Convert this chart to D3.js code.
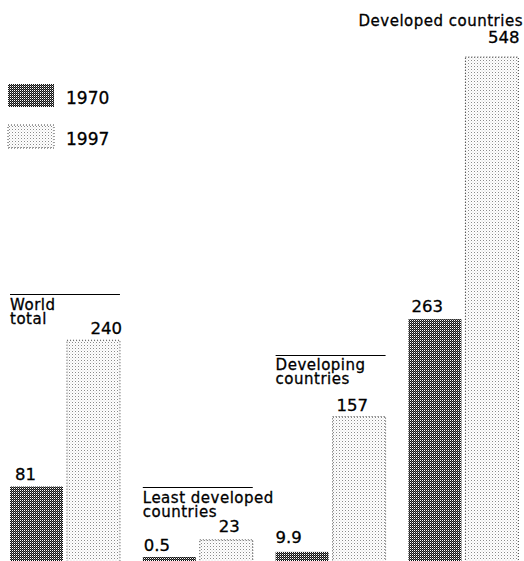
<!DOCTYPE html>
<html><head><meta charset="utf-8">
<script src="https://cdn.jsdelivr.net/npm/d3@7"></script>
<style>
html,body{margin:0;padding:0;background:#fff;}
svg{display:block;}
text{font-family:"DejaVu Sans",sans-serif;fill:#000;stroke:#000;stroke-width:0.3px;}
</style></head>
<body>
<svg id="chart" width="524" height="561"></svg>
<script>
// ---- data ----
const categories = ["World total", "Least developed countries", "Developing countries", "Developed countries"];
const series = ["1970", "1997"];
const values1970 = [81, 0.5, 9.9, 263];
const values1997 = [240, 23, 157, 548];
const valueLabels1970 = ["81", "0.5", "9.9", "263"];
const valueLabels1997 = ["240", "23", "157", "548"];
const categoryLines = [["World", "total"], ["Least developed", "countries"], ["Developing", "countries"], ["Developed countries"]];

// ---- layout ----
const W = 524, H = 561;
const svg = d3.select("#chart");
const defs = svg.append("defs");

// dark dither pattern
const pd = defs.append("pattern").attr("id", "dark").attr("patternUnits", "userSpaceOnUse")
  .attr("width", 2).attr("height", 2);
pd.append("rect").attr("width", 2).attr("height", 2).attr("fill", "#111");
pd.append("rect").attr("x", 0).attr("y", 0).attr("width", 1).attr("height", 1).attr("fill", "#fff");
pd.append("rect").attr("x", 1).attr("y", 1).attr("width", 1).attr("height", 1).attr("fill", "#666");

// light dotted pattern
const pl = defs.append("pattern").attr("id", "light").attr("patternUnits", "userSpaceOnUse")
  .attr("width", 3).attr("height", 3);
pl.append("rect").attr("width", 3).attr("height", 3).attr("fill", "#fff");
pl.append("rect").attr("x", 0).attr("y", 0).attr("width", 1).attr("height", 1).attr("fill", "#8a8a8a");
pl.append("rect").attr("x", 1.5).attr("y", 1.5).attr("width", 1).attr("height", 1).attr("fill", "#cfcfcf");

const fills = {"1970": "url(#dark)", "1997": "url(#light)"};

const x0 = d3.scaleBand().domain(categories).range([10, 518.4]).paddingInner(0.172);
const x1 = d3.scaleBand().domain(series).range([0, x0.bandwidth()]).paddingInner(0.07);
const y = d3.scaleLinear().domain([0, 548]).range([561, 57]);

const rows = [];
categories.forEach((c, i) => {
  rows.push({cat: c, i, s: "1970", v: values1970[i], label: valueLabels1970[i]});
  rows.push({cat: c, i, s: "1997", v: values1997[i], label: valueLabels1997[i]});
});

const minH = 4;
const barTop = d => Math.min(y(d.v), y(0) - minH);

svg.append("g").selectAll("rect").data(rows).join("rect")
  .attr("x", d => x0(d.cat) + x1(d.s))
  .attr("y", d => barTop(d))
  .attr("width", x1.bandwidth())
  .attr("height", d => y(0) - barTop(d) + 2)
  .attr("fill", d => fills[d.s])
  .attr("stroke", d => d.s === "1997" ? "#444" : "none")
  .attr("stroke-width", 1)
  .attr("stroke-dasharray", d => d.s === "1997" ? "1,2" : null);

// value labels
const valueLayout = {
  "1970": [{anchor: "start", dx: 5, dy: -7}, {anchor: "start", dx: 1, dy: -6}, {anchor: "start", dx: 0, dy: -9}, {anchor: "start", dx: 3, dy: -7}],
  "1997": [{anchor: "end", dx: 2, dy: -6}, {anchor: "middle", dx: 3, dy: -8}, {anchor: "start", dx: 4, dy: -6}, {anchor: "end", dx: 1, dy: -14}]
};
svg.append("g").selectAll("text").data(rows).join("text")
  .attr("font-size", 16.5)
  .attr("text-anchor", d => valueLayout[d.s][d.i].anchor)
  .attr("x", d => {
    const L = valueLayout[d.s][d.i];
    const bx = x0(d.cat) + x1(d.s);
    const base = L.anchor === "start" ? bx : L.anchor === "end" ? bx + x1.bandwidth() : bx + x1.bandwidth() / 2;
    return base + L.dx;
  })
  .attr("y", d => barTop(d) + valueLayout[d.s][d.i].dy)
  .text(d => d.label);

// category labels with rule above
const catLayout = [
  {lineY: 294, base: 310, anchor: "start", rule: true},
  {lineY: 487, base: 503, anchor: "start", rule: true},
  {lineY: 355, base: 370, anchor: "start", rule: true},
  {lineY: null, base: 26, anchor: "end", rule: false}
];
categories.forEach((c, i) => {
  const L = catLayout[i];
  const gx = x0(c);
  if (L.rule) {
    svg.append("line").attr("x1", gx).attr("x2", gx + x0.bandwidth())
      .attr("y1", L.lineY + 0.5).attr("y2", L.lineY + 0.5)
      .attr("stroke", "#000").attr("stroke-width", 1);
  }
  const t = svg.append("text")
    .attr("font-size", 15)
    .attr("letter-spacing", 0.5)
    .attr("text-anchor", L.anchor)
    .attr("x", L.anchor === "start" ? gx : W - 1)
    .attr("y", L.base);
  categoryLines[i].forEach((ln, k) => {
    t.append("tspan").attr("x", L.anchor === "start" ? gx : W - 1)
      .attr("dy", k === 0 ? 0 : 14).text(ln);
  });
});

// legend
const legend = svg.append("g");
series.forEach((s, k) => {
  const ly = 84 + k * 41;
  legend.append("rect").attr("x", 8).attr("y", ly).attr("width", 46).attr("height", 23)
    .attr("fill", fills[s])
    .attr("stroke", s === "1997" ? "#444" : "none")
    .attr("stroke-dasharray", s === "1997" ? "1,2" : null);
  legend.append("text").attr("x", 66).attr("y", ly + 20).attr("font-size", 17).text(s);
});
</script>
</body></html>
